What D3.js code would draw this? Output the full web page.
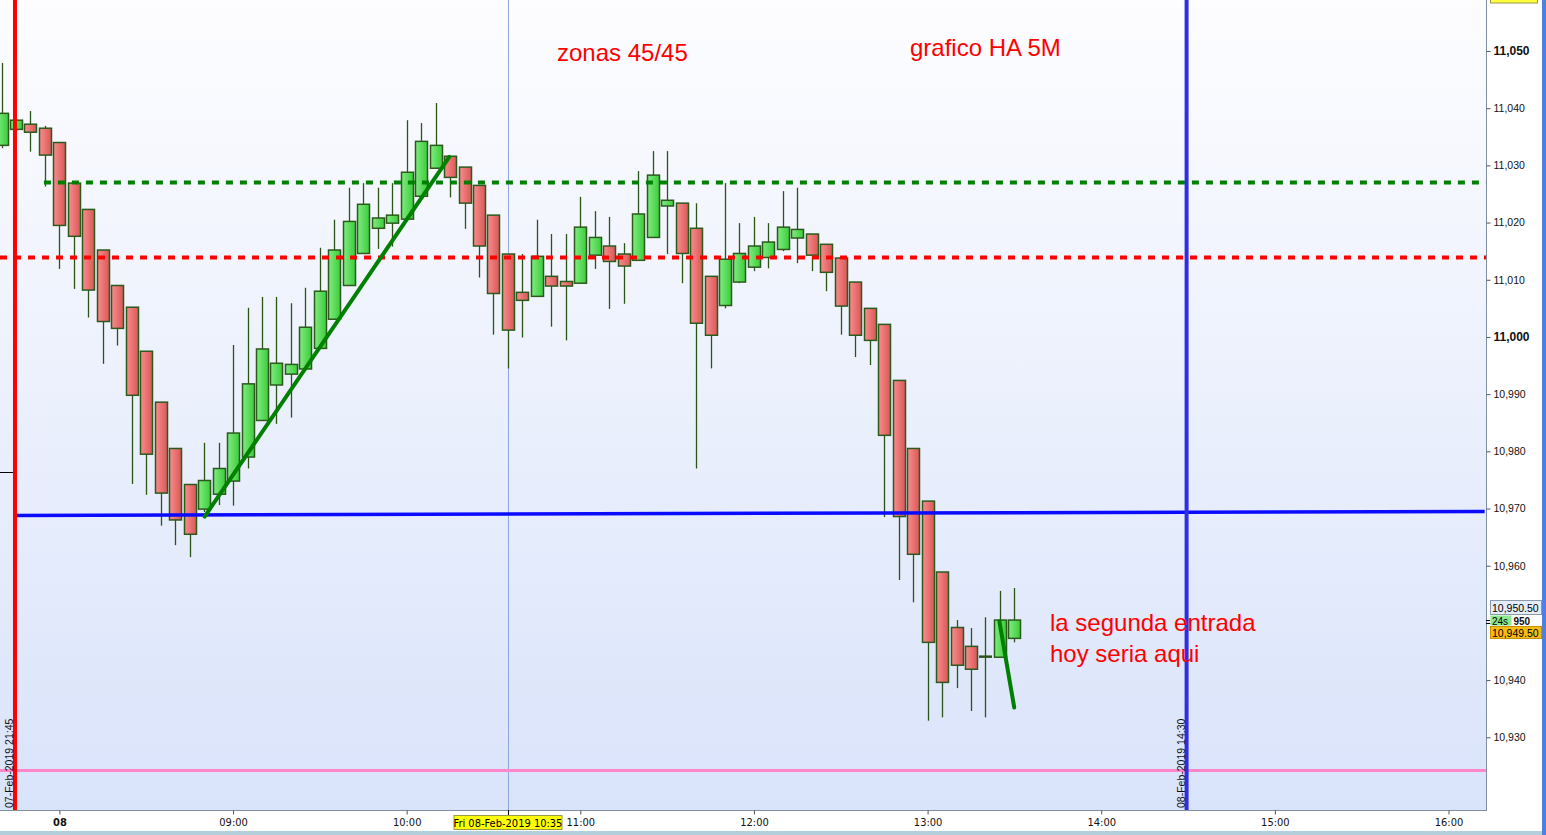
<!DOCTYPE html>
<html>
<head>
<meta charset="utf-8">
<script src="https://cdn.jsdelivr.net/npm/d3@7"></script>
<style>
  body { margin: 0; background: #fff; overflow: hidden; }
  svg { display: block; font-family: Arial, "Liberation Sans", sans-serif; }
  .narrow { font-family: "Liberation Sans Narrow", "Arial Narrow", "DejaVu Sans Condensed", Arial, sans-serif; }
</style>
</head>
<body>
<div class="chart"></div>
<script>
// bar index 0 = 08:00, one bar every 5 minutes (Heikin Ashi 5M)
var firstBar = -4;
var opens  = [11033.5, 11036.3, 11037.2, 11036.5, 11034.0, 11026.9, 11022.3, 11015.2, 11009.0, 11005.2,
              10997.5, 10988.6, 10980.5, 10974.2, 10969.9, 10972.5, 10974.8, 10979.0, 10985.4, 10991.6,
              10993.5, 10994.4, 10998.0, 11003.1, 11009.0, 11014.6, 11019.0, 11019.9, 11020.6, 11024.6,
              11029.5, 11031.6, 11029.7, 11026.5, 11021.3, 11014.5, 11007.8, 11007.1, 11010.6, 11009.7,
              11009.4, 11014.3, 11015.9, 11014.5, 11013.4, 11017.4, 11022.9, 11023.4, 11019.0, 11010.6,
              11005.5, 11009.6, 11012.2, 11013.9, 11015.3, 11017.3, 11018.0, 11016.2, 11013.8, 11009.6,
              11005.0, 11002.2, 10992.4, 10980.5, 10971.3, 10958.9, 10949.2, 10945.9, 10944.1, 10944.0,
              10947.3];
var highs  = [11047.9, 11038.1, 11039.5, 11036.9, 11034.0, 11026.9, 11022.3, 11015.2, 11009.0, 11005.2,
              10997.5, 10988.6, 10980.5, 10974.2, 10981.5, 10981.5, 10998.6, 11005.1, 11007.0, 11007.0,
              11005.9, 11008.6, 11015.6, 11020.5, 11026.1, 11026.9, 11026.1, 11026.9, 11037.9, 11037.4,
              11040.9, 11031.6, 11029.7, 11026.5, 11021.3, 11014.5, 11014.5, 11020.5, 11018.0, 11018.0,
              11024.5, 11022.0, 11021.0, 11016.4, 11029.0, 11032.5, 11032.5, 11023.4, 11023.4, 11010.6,
              11026.9, 11019.9, 11021.0, 11019.9, 11025.5, 11026.1, 11018.0, 11016.2, 11013.8, 11009.6,
              11005.0, 11002.2, 10992.4, 10980.5, 10971.3, 10958.9, 10950.5, 10949.1, 10951.0, 10955.6,
              10956.1];
var lows   = [11033.0, 11036.0, 11032.4, 11026.3, 11011.9, 11008.4, 11003.4, 10995.3, 10998.5, 10974.3,
              10972.4, 10967.0, 10963.6, 10961.5, 10969.4, 10970.6, 10970.5, 10977.0, 10985.4, 10984.8,
              10985.9, 10994.4, 10998.0, 11003.1, 11009.0, 11014.6, 11015.4, 11015.8, 11020.6, 11024.6,
              11029.5, 11024.4, 11018.9, 11010.4, 11000.4, 10994.5, 10999.9, 11007.1, 11001.8, 10999.4,
              11009.4, 11011.9, 11004.9, 11005.8, 11013.4, 11017.4, 11014.5, 11009.4, 10977.0, 10994.5,
              11005.0, 11009.4, 11011.5, 11012.0, 11015.0, 11012.9, 11011.5, 11008.0, 11000.4, 10996.5,
              10995.1, 10968.5, 10957.5, 10953.6, 10932.9, 10933.5, 10938.6, 10934.6, 10933.5, 10944.0,
              10946.6];
var closes = [11039.1, 11037.9, 11035.8, 11031.8, 11019.5, 11017.6, 11008.2, 11002.7, 11001.5, 10989.8,
              10979.5, 10972.7, 10968.0, 10965.5, 10974.9, 10977.0, 10983.2, 10991.8, 10997.9, 10995.4,
              10995.2, 11001.7, 11008.0, 11015.2, 11020.2, 11023.2, 11020.8, 11021.3, 11028.8, 11034.2,
              11033.5, 11027.9, 11023.4, 11015.9, 11007.6, 11001.2, 11006.4, 11014.1, 11008.9, 11008.9,
              11019.2, 11017.4, 11013.2, 11012.4, 11021.5, 11028.3, 11023.9, 11014.6, 11002.4, 11000.3,
              11013.6, 11014.6, 11015.9, 11016.6, 11019.2, 11018.8, 11014.3, 11011.3, 11005.4, 11000.3,
              10999.4, 10982.8, 10968.6, 10962.0, 10946.6, 10939.6, 10942.6, 10941.9, 10944.1, 10950.5,
              10950.5];

var priceTicks = [10930, 10940, 10950, 10960, 10970, 10980, 10990, 11000, 11010, 11020, 11030, 11040, 11050];
var timeTicks = [0, 12, 24, 36, 48, 60, 72, 84, 96];
var timeTickLabels = ["08", "09:00", "10:00", "11:00", "12:00", "13:00", "14:00", "15:00", "16:00"];

// drawn levels / tools
var levelGreen = 11027.0, levelRed = 11013.9, levelPink = 10924.2;
var greenStartBar = -1.07;
var blueLine = [[-3.1, 10968.8], [98.5, 10969.5]];
var trend1 = [[10.04, 10968.6], [26.95, 11031.5]];
var trend2 = [[64.96, 10950.3], [65.99, 10935.2]];
var vRedBar = -3.07, vBlueBar = 77.9, cursorBar = 31;
var vRedLabel = "07-Feb-2019 21:45", vBlueLabel = "08-Feb-2019 14:30", cursorLabel = "Fri 08-Feb-2019 10:35";
var lastPrice = 10950.5, bidLabel = "10,950.50", askLabel = "10,949.50", timerLabel = "24s";

var W = 1546, H = 835;
var plotRight = 1486, plotBottom = 810;

var x = d3.scaleLinear().domain([0, 96]).range([59.4, 1448.5]);
var y = d3.scaleLinear().domain([10930, 11050]).range([737.3, 51]);

var svg = d3.select(".chart").append("svg").attr("width", W).attr("height", H);
var defs = svg.append("defs");

var bgGrad = defs.append("linearGradient").attr("id", "bg").attr("x1", 0).attr("y1", 0).attr("x2", 0).attr("y2", 1);
bgGrad.append("stop").attr("offset", "0%").attr("stop-color", "#fdfdff");
bgGrad.append("stop").attr("offset", "100%").attr("stop-color", "#d9e3fa");

var gUp = defs.append("linearGradient").attr("id", "up").attr("x1", 0).attr("x2", 1);
gUp.append("stop").attr("offset", "0%").attr("stop-color", "#7fec7f");
gUp.append("stop").attr("offset", "100%").attr("stop-color", "#3ccc3c");
var gDn = defs.append("linearGradient").attr("id", "dn").attr("x1", 0).attr("x2", 1);
gDn.append("stop").attr("offset", "0%").attr("stop-color", "#fa8c8c");
gDn.append("stop").attr("offset", "100%").attr("stop-color", "#d85858");

defs.append("clipPath").attr("id", "clip")
  .append("rect").attr("x", 0).attr("y", 0).attr("width", plotRight).attr("height", plotBottom);

// backgrounds
svg.append("rect").attr("width", W).attr("height", H).attr("fill", "#ffffff");
svg.append("rect").attr("width", plotRight).attr("height", plotBottom).attr("fill", "url(#bg)");
svg.append("rect").attr("x", 0).attr("y", 831).attr("width", W).attr("height", 4).attr("fill", "#b3cfdc");
svg.append("rect").attr("x", 1542).attr("y", 0).attr("width", 4).attr("height", H).attr("fill", "#4f7fdf");

var plot = svg.append("g").attr("clip-path", "url(#clip)");

// cursor line
plot.append("line")
  .attr("x1", x(cursorBar) + 0.5).attr("x2", x(cursorBar) + 0.5)
  .attr("y1", 0).attr("y2", plotBottom)
  .attr("stroke", "#8ea6e6").attr("stroke-width", 1);

// small marker on the left edge
plot.append("line").attr("x1", 0).attr("x2", 14).attr("y1", 472.5).attr("y2", 472.5)
  .attr("stroke", "#000").attr("stroke-width", 1);

// candles
var bars = opens.map(function(o, i) {
  return { i: firstBar + i, o: o, h: highs[i], l: lows[i], c: closes[i] };
});

var candle = plot.selectAll(".candle").data(bars).enter().append("g").attr("class", "candle");

candle.append("line")
  .attr("x1", function(d) { return Math.round(x(d.i)) + 0.5; })
  .attr("x2", function(d) { return Math.round(x(d.i)) + 0.5; })
  .attr("y1", function(d) { return y(d.h); })
  .attr("y2", function(d) { return y(d.l); })
  .attr("stroke", "#2b5518").attr("stroke-width", 1.3);

candle.filter(function(d) { return Math.abs(y(d.o) - y(d.c)) >= 1.5; })
  .append("rect")
  .attr("x", function(d) { return Math.round(x(d.i)) - 5.5; })
  .attr("width", 12)
  .attr("y", function(d) { return y(Math.max(d.o, d.c)); })
  .attr("height", function(d) { return Math.abs(y(d.o) - y(d.c)); })
  .attr("fill", function(d) { return d.c >= d.o ? "url(#up)" : "url(#dn)"; })
  .attr("stroke", "#2b5a1c").attr("stroke-width", 1.5);

candle.filter(function(d) { return Math.abs(y(d.o) - y(d.c)) < 1.5; })
  .append("line")
  .attr("x1", function(d) { return Math.round(x(d.i)) - 6; })
  .attr("x2", function(d) { return Math.round(x(d.i)) + 7; })
  .attr("y1", function(d) { return y(d.c); })
  .attr("y2", function(d) { return y(d.c); })
  .attr("stroke", "#2b5518").attr("stroke-width", 2.5);

// horizontal levels
plot.append("line")
  .attr("x1", x(greenStartBar)).attr("x2", plotRight)
  .attr("y1", y(levelGreen)).attr("y2", y(levelGreen))
  .attr("stroke", "#008000").attr("stroke-width", 4).attr("stroke-dasharray", "7,7");
plot.append("line")
  .attr("x1", 0).attr("x2", plotRight)
  .attr("y1", y(levelRed)).attr("y2", y(levelRed))
  .attr("stroke", "#ff0000").attr("stroke-width", 4).attr("stroke-dasharray", "7,7");
plot.append("line")
  .attr("x1", x(blueLine[0][0])).attr("x2", x(blueLine[1][0]))
  .attr("y1", y(blueLine[0][1])).attr("y2", y(blueLine[1][1]))
  .attr("stroke", "#0a0aff").attr("stroke-width", 3.5);
plot.append("line")
  .attr("x1", 0).attr("x2", plotRight)
  .attr("y1", y(levelPink)).attr("y2", y(levelPink))
  .attr("stroke", "#ff86c8").attr("stroke-width", 3);

// trend lines
[trend1, trend2].forEach(function(t) {
  plot.append("line")
    .attr("x1", x(t[0][0])).attr("y1", y(t[0][1]))
    .attr("x2", x(t[1][0])).attr("y2", y(t[1][1]))
    .attr("stroke", "#008000").attr("stroke-width", 4).attr("stroke-linecap", "round");
});

// vertical lines
plot.append("line").attr("x1", x(vRedBar)).attr("x2", x(vRedBar)).attr("y1", 0).attr("y2", plotBottom)
  .attr("stroke", "#ff0000").attr("stroke-width", 4);
plot.append("line").attr("x1", x(vBlueBar)).attr("x2", x(vBlueBar)).attr("y1", 0).attr("y2", plotBottom)
  .attr("stroke", "#2f2fe0").attr("stroke-width", 4);

plot.append("text")
  .attr("transform", "translate(" + (x(vRedBar) - 1.5) + "," + (plotBottom - 2) + ") rotate(-90)")
  .attr("font-size", "10.5px").attr("fill", "#111").text(vRedLabel);
plot.append("text")
  .attr("transform", "translate(" + (x(vBlueBar) - 2) + "," + (plotBottom - 2) + ") rotate(-90)")
  .attr("font-size", "10.5px").attr("fill", "#111").text(vBlueLabel);

// annotations
var notes = svg.append("g").attr("fill", "#ff0000").attr("font-size", "24px");
notes.append("text").attr("x", 557).attr("y", 61).text("zonas 45/45");
notes.append("text").attr("x", 910).attr("y", 56).text("grafico HA 5M");
notes.append("text").attr("x", 1050).attr("y", 631).text("la segunda entrada");
notes.append("text").attr("x", 1050).attr("y", 662).text("hoy seria aqui");

// axis frame
svg.append("line").attr("x1", plotRight + 0.5).attr("x2", plotRight + 0.5).attr("y1", 0).attr("y2", plotBottom)
  .attr("stroke", "#7f8fa0").attr("stroke-width", 1);
svg.append("line").attr("x1", 0).attr("x2", plotRight + 1).attr("y1", plotBottom + 0.5).attr("y2", plotBottom + 0.5)
  .attr("stroke", "#7f8fa0").attr("stroke-width", 1);

// right price axis
var yAxis = svg.append("g").attr("transform", "translate(" + (plotRight + 0.5) + ",0)")
  .call(d3.axisRight(y).tickValues(priceTicks).tickSize(4).tickPadding(3).tickFormat(d3.format(",")));
yAxis.select(".domain").remove();
yAxis.selectAll(".tick line").attr("stroke", "#555");
yAxis.selectAll(".tick text")
  .attr("fill", "#111")
  .attr("font-family", "Arial, 'Liberation Sans', sans-serif")
  .attr("font-size", function(d) { return d % 50 === 0 ? "12px" : "10.5px"; })
  .attr("font-weight", function(d) { return d % 50 === 0 ? "bold" : "normal"; });
// the 10,950 label sits under the last-price boxes; only its tail shows, after the timer box
yAxis.selectAll(".tick").filter(function(d) { return d === 10950; }).select("text")
  .attr("x", 27).attr("dy", "0.15em").attr("font-size", "10px").attr("text-anchor", "start").text("950");

// bottom time axis
var xAxis = svg.append("g").attr("transform", "translate(0," + (plotBottom + 0.5) + ")")
  .call(d3.axisBottom(x).tickValues(timeTicks).tickSize(4).tickPadding(4)
    .tickFormat(function(d, i) { return timeTickLabels[i]; }));
xAxis.select(".domain").remove();
xAxis.selectAll(".tick line").attr("stroke", "#555");
xAxis.selectAll(".tick text")
  .attr("class", "narrow")
  .attr("fill", "#111")
  .attr("font-size", "11px")
  .attr("font-weight", function(d) { return d === 0 ? "bold" : "normal"; });

// cursor time label
svg.append("line").attr("x1", x(cursorBar) + 0.5).attr("x2", x(cursorBar) + 0.5)
  .attr("y1", plotBottom).attr("y2", plotBottom + 6).attr("stroke", "#000");
var cl = svg.append("g");
cl.append("rect").attr("x", x(cursorBar) - 54).attr("y", 815.5).attr("width", 108).attr("height", 14)
  .attr("fill", "#ffff00").attr("stroke", "#9a9a40").attr("stroke-width", 1);
cl.append("text").attr("class", "narrow").attr("x", x(cursorBar)).attr("y", 826.5)
  .attr("text-anchor", "middle").attr("font-size", "11px").attr("fill", "#000").text(cursorLabel);

// last price labels on the right axis
var py = y(lastPrice);
svg.append("line").attr("x1", 1486).attr("x2", 1490).attr("y1", py + 0.5).attr("y2", py + 0.5).attr("stroke", "#000");
svg.append("line").attr("x1", 1486).attr("x2", 1490).attr("y1", py + 3.5).attr("y2", py + 3.5).attr("stroke", "#000");

svg.append("rect").attr("x", 1490.5).attr("y", 600.5).attr("width", 51).attr("height", 14)
  .attr("fill", "#e4ecf8").attr("stroke", "#8a9aae");
svg.append("text").attr("x", 1492).attr("y", 611.5).attr("font-size", "10.5px").attr("fill", "#000").text(bidLabel);

svg.append("rect").attr("x", 1490.5).attr("y", 626.5).attr("width", 51).attr("height", 12)
  .attr("fill", "#f7bb14").attr("stroke", "#c89000");
svg.append("text").attr("x", 1492).attr("y", 636.5).attr("font-size", "10.5px").attr("fill", "#000").text(askLabel);

svg.append("rect").attr("x", 1490.5).attr("y", 615.5).attr("width", 21).attr("height", 10)
  .attr("fill", "#8ee88e");
svg.append("text").attr("x", 1492).attr("y", 624.5).attr("font-size", "10px").attr("fill", "#000").text(timerLabel);

// top price box, only its lower edge is inside the window
svg.append("rect").attr("x", 1490.5).attr("y", -12).attr("width", 47).attr("height", 15)
  .attr("fill", "#ffff40").attr("stroke", "#9a9a40");
</script>
</body>
</html>
